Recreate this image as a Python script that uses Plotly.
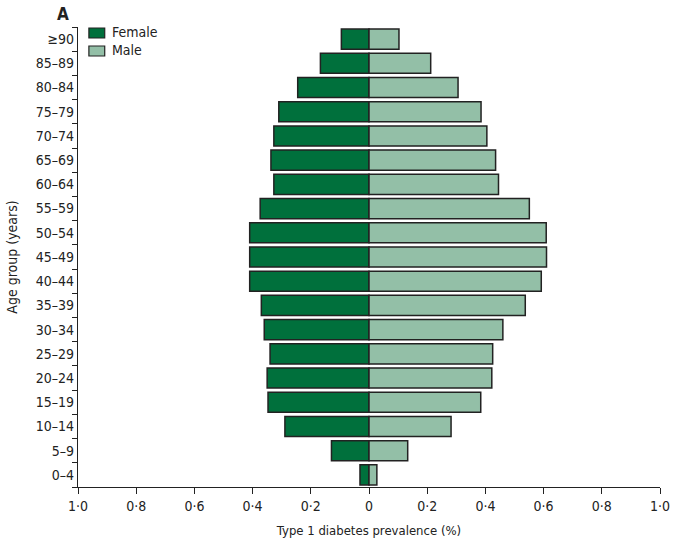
import plotly.graph_objects as go

age_groups = ["0–4", "5–9", "10–14", "15–19", "20–24", "25–29", "30–34", "35–39",
              "40–44", "45–49", "50–54", "55–59", "60–64", "65–69", "70–74",
              "75–79", "80–84", "85–89", "≥90"]
female = [0.031, 0.129, 0.289, 0.347, 0.350, 0.340, 0.360, 0.370,
          0.410, 0.410, 0.410, 0.374, 0.327, 0.337, 0.327,
          0.310, 0.245, 0.167, 0.095]
male = [0.027, 0.133, 0.282, 0.384, 0.422, 0.425, 0.460, 0.537,
        0.592, 0.610, 0.609, 0.551, 0.445, 0.435, 0.405,
        0.385, 0.306, 0.212, 0.103]
tick_vals = [-1.0, -0.8, -0.6, -0.4, -0.2, 0, 0.2, 0.4, 0.6, 0.8, 1.0]
tick_text = ["1·0", "0·8", "0·6", "0·4", "0·2", "0", "0·2", "0·4", "0·6", "0·8", "1·0"]

FEMALE_C = "#00703C"
MALE_C = "#93BFA7"
EDGE = "#222222"
FONT = "DejaVu Sans Condensed, Roboto, sans-serif"

W, H = 682, 547
L, R, T, B = 77, 17, 27, 60
PW, PH = W - L - R, H - T - B


def px(xp):
    return (xp - L) / PW


def py(yp):
    return (H - B - yp) / PH


fig = go.Figure()
fig.add_trace(go.Bar(
    y=age_groups, x=[-v for v in female], orientation="h", name="Female",
    marker=dict(color=FEMALE_C, line=dict(color=EDGE, width=1.5)),
))
fig.add_trace(go.Bar(
    y=age_groups, x=male, orientation="h", name="Male",
    marker=dict(color=MALE_C, line=dict(color=EDGE, width=1.5)),
))

shapes = []
annotations = []
for i, (name, col) in enumerate([("Female", FEMALE_C), ("Male", MALE_C)]):
    y0 = 28 + i * 18
    shapes.append(dict(type="rect", xref="paper", yref="paper",
                       x0=px(88), x1=px(104), y0=py(y0), y1=py(y0 + 10),
                       fillcolor=col, line=dict(color=EDGE, width=1.2)))
    annotations.append(dict(text=name, xref="paper", yref="paper",
                            x=px(109), y=py(y0 + 4), xanchor="left",
                            yanchor="middle", showarrow=False,
                            font=dict(size=14)))
annotations.append(dict(text="<b>A</b>", xref="paper", yref="paper",
                        x=px(62), y=py(14), xanchor="center", yanchor="middle",
                        showarrow=False, font=dict(size=17)))

fig.update_layout(
    width=W, height=H,
    margin=dict(l=L, r=R, t=T, b=B),
    barmode="overlay", bargap=0.17,
    plot_bgcolor="white", paper_bgcolor="white",
    font=dict(family=FONT, size=14, color="#222222"),
    showlegend=False,
    shapes=shapes,
    annotations=annotations,
    xaxis=dict(range=[-1.0, 1.0], tickvals=tick_vals, ticktext=tick_text,
               showgrid=False, zeroline=False, showline=True, linecolor=EDGE,
               linewidth=1.3, ticks="outside", ticklen=6, tickcolor=EDGE,
               tickwidth=1.3,
               title=dict(text="Type 1 diabetes prevalence (%)", standoff=12,
                          font=dict(size=13))),
    yaxis=dict(categoryorder="array", categoryarray=age_groups,
               range=[-0.5, 18.5], showgrid=False, zeroline=False,
               showline=True, linecolor=EDGE, linewidth=1.3,
               ticks="outside", tickson="boundaries", ticklen=5,
               tickcolor=EDGE, tickwidth=1.3,
               title=dict(text="Age group (years)", standoff=14,
                          font=dict(size=14))),
)
fig.write_html("out.html")
